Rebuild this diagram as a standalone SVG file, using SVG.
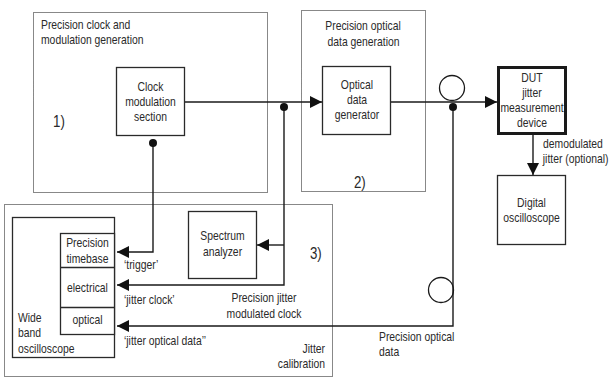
<svg xmlns="http://www.w3.org/2000/svg" width="612" height="379" viewBox="0 0 612 379">
<defs>
<style>
text{font-family:"Liberation Sans",Arial,sans-serif;font-size:12.5px;fill:#2a2a2a;transform-box:fill-box;transform:scaleX(0.83);transform-origin:left center}
.c{text-anchor:middle;transform-origin:center}
.r{text-anchor:end;transform-origin:right center}
.big{font-size:16px}
.grp{fill:none;stroke:#111;stroke-width:1;stroke-dasharray:1 1}
.box{fill:#fff;stroke:#2a2a2a;stroke-width:1.3}
.thick{fill:#fff;stroke:#1a1a1a;stroke-width:3}
.ln{fill:none;stroke:#1a1a1a;stroke-width:1.4}
.dot{fill:#111}
.ring{fill:none;stroke:#1a1a1a;stroke-width:1.3}
</style>
<marker id="ah" viewBox="0 0 12 12" refX="12" refY="6" markerWidth="12" markerHeight="12" markerUnits="userSpaceOnUse" orient="auto">
<path d="M0,0 L12,6 L0,12 Z" fill="#111"/>
</marker>
</defs>

<g id="group1">
<rect class="grp" x="33.5" y="12.5" width="234" height="180"/>
<text x="41" y="29">Precision clock and</text>
<text x="41" y="44">modulation generation</text>
<text class="big" x="53" y="127">1)</text>
</g>
<g id="group2">
<rect class="grp" x="301.5" y="10.5" width="124" height="181"/>
<text class="c" x="363" y="30">Precision optical</text>
<text class="c" x="363.5" y="46">data generation</text>
<text class="big" x="354" y="188">2)</text>
</g>
<g id="group3">
<rect class="grp" x="4.5" y="204.5" width="328" height="172"/>
<text class="big" x="310" y="259">3)</text>
<text class="r" x="325" y="353">Jitter</text>
<text class="r" x="325" y="368">calibration</text>
</g>

<g id="connectors">
<path class="ln" d="M185,102 H322" marker-end="url(#ah)"/>
<path class="ln" d="M391,102 H497" marker-end="url(#ah)"/>
<path class="ln" d="M533,135 V175" marker-end="url(#ah)"/>
<path class="ln" d="M153,143 V252 H117" marker-end="url(#ah)"/>
<path class="ln" d="M284,107 V285 H117" marker-end="url(#ah)"/>
<path class="ln" d="M284,245 H257" marker-end="url(#ah)"/>
<path class="ln" d="M453,107 V326 H117" marker-end="url(#ah)"/>
<circle class="dot" cx="153" cy="143" r="4"/>
<circle class="dot" cx="284" cy="107" r="4"/>
<circle class="dot" cx="453" cy="107" r="4"/>
<circle class="ring" cx="452" cy="88" r="12.5"/>
<circle class="ring" cx="441" cy="290" r="12.5"/>
<text x="124" y="269">‘trigger’</text>
<text x="124" y="304">‘jitter clock’</text>
<text x="124" y="345">‘jitter optical data’’</text>
<text class="c" x="264" y="302">Precision jitter</text>
<text class="c" x="264" y="318">modulated clock</text>
<text x="379" y="341">Precision optical</text>
<text x="379" y="356">data</text>
<text x="543" y="148">demodulated</text>
<text x="543" y="163">jitter (optional)</text>
</g>

<g id="clock-mod">
<rect class="box" x="116.5" y="67.5" width="68" height="68"/>
<text class="c" x="150.5" y="91">Clock</text>
<text class="c" x="150.5" y="106">modulation</text>
<text class="c" x="150.5" y="121">section</text>
</g>
<g id="optical-gen">
<rect class="box" x="322.5" y="66.5" width="68" height="68"/>
<text class="c" x="357" y="89">Optical</text>
<text class="c" x="357" y="104">data</text>
<text class="c" x="357" y="119">generator</text>
</g>
<g id="dut">
<rect class="thick" x="498.5" y="67.5" width="67" height="66"/>
<text class="c" x="532" y="82">DUT</text>
<text class="c" x="532" y="97">jitter</text>
<text class="c" x="532" y="112">measurement</text>
<text class="c" x="532" y="127">device</text>
</g>
<g id="digital-osc">
<rect class="box" x="497.5" y="175.5" width="68" height="69"/>
<text class="c" x="531.5" y="207">Digital</text>
<text class="c" x="531.5" y="222">oscilloscope</text>
</g>
<g id="spectrum">
<rect class="box" x="188.5" y="211.5" width="68" height="67"/>
<text class="c" x="222.5" y="240">Spectrum</text>
<text class="c" x="222.5" y="256">analyzer</text>
</g>
<g id="wideband-osc">
<rect class="box" x="12.5" y="217.5" width="102" height="140"/>
<text x="18" y="322">Wide</text>
<text x="18" y="337">band</text>
<text x="18" y="353">oscilloscope</text>
<rect class="box" x="60.5" y="233.5" width="54" height="101"/>
<line class="box" x1="60.5" y1="267.5" x2="114.5" y2="267.5"/>
<line class="box" x1="60.5" y1="307.5" x2="114.5" y2="307.5"/>
<text class="c" x="87.5" y="247">Precision</text>
<text class="c" x="87.5" y="263">timebase</text>
<text class="c" x="87.5" y="292">electrical</text>
<text class="c" x="87.5" y="324">optical</text>
</g>
</svg>
